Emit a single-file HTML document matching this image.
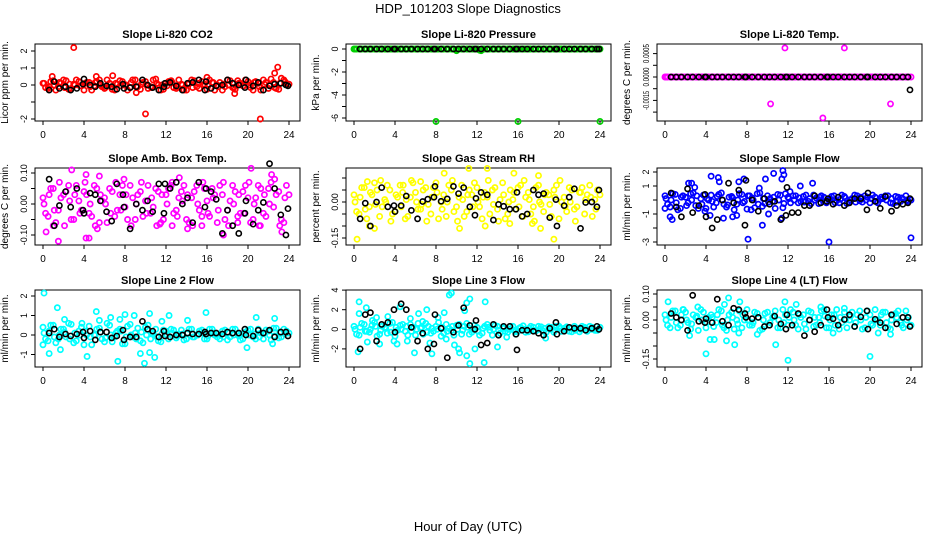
<!DOCTYPE html>
<html><head><meta charset="utf-8"><style>
html,body{margin:0;padding:0;background:#fff;}
svg{display:block;font-family:"Liberation Sans",Arial,sans-serif;}
</style></head><body>
<svg id="chart" width="936" height="540" viewBox="0 0 936 540" xmlns="http://www.w3.org/2000/svg">
<text x="468" y="13" text-anchor="middle" font-size="13">HDP_101203  Slope Diagnostics</text>
<text x="468" y="531" text-anchor="middle" font-size="13">Hour of Day (UTC)</text>
</svg>
<script>
const xTicks=[0,4,8,12,16,20,24];
const blackHours=[0.6,1.1,1.6,2.2,2.7,3.3,3.9,4.0,4.6,5.1,5.6,6.2,6.7,7.2,7.8,7.9,8.5,9.1,9.7,10.2,10.7,11.3,11.8,11.9,12.4,13.0,13.6,14.1,14.6,15.2,15.8,15.9,16.4,16.9,17.5,18.0,18.5,19.1,19.7,19.8,20.5,21.0,21.5,22.1,22.6,23.2,23.7,23.9];
const titles=["Slope Li-820 CO2","Slope Li-820 Pressure","Slope Li-820 Temp.","Slope Amb. Box Temp.","Slope Gas Stream RH","Slope Sample Flow","Slope Line 2 Flow","Slope Line 3 Flow","Slope Line 4 (LT) Flow"];
const yTitles=["Licor ppm per min.","kPa per min.","degrees C per min.","degrees C per min.","percent per min.","ml/min per min.","ml/min per min.","ml/min per min.","ml/min per min."];
const colors=["#ff0000","#00d000","#ff00ff","#ff00ff","#ffff00","#0000ff","#00ffff","#00ffff","#00ffff"];
const yTickVals=[[-2,-1,0,1,2],[0,-1,-2,-3,-4,-5,-6],[0.001,0.0005,0,-0.0005,-0.001,-0.0015],[0.1,0.05,0,-0.05,-0.1],[0.1,0.05,0,-0.05,-0.1,-0.15],[2,1,0,-1,-2,-3],[2,1,0,-1],[4,2,0,-2],[0.1,0.05,0,-0.05,-0.1,-0.15]];
const yTickLabels=[["-2","","0","1","2"],["0","","-2","","-4","","-6"],["0.0005","","0.0000","","-0.0015",""],["0.10","","0.00","","-0.10"],["","","0.00","","","-0.15"],["2","1","","-1","","-3"],["2","1","0","-1"],["4","2","0","-2"],["0.10","","0.00","","","-0.15"]];

const bandA=[
[0.1,-0.2,0.25,-0.1,0.3,-0.25,0.05,0.2,-0.3,0.15,-0.05,0.3,-0.2,0.1,-0.3,0.25,0,-0.15,0.3,-0.25,0.2,-0.1,0.35,-0.3,0.1,0.25,-0.2,0.05,-0.3,0.3,-0.1,0.2,-0.25,0.15,0,-0.3,0.3,-0.15,0.25,-0.05,0.2,-0.3,0.1,0.3,-0.2,0.15,-0.25,0.3,0.05],
[0,0,0,0,0,0,0,0,0,0,0,0,0,0,0,0,0,0,0,0,-0.1,0,0,0,0,0,0,0,0,0,0,0,0,0,0,0,0,0,0,0,0,0,0,0,0,0,0,0,0],
[0,0,0,0,0,0,0,0,0,0,0,0,0,0,0,0,0,0,0,0,0,0,0,0,0,0,0,0,0,0,0,0,0,0,0,0,0,0,0,0,0,0,0,0,0,0,0,0,0],
[0.02,-0.04,0.05,-0.02,0.03,0.06,-0.05,0.01,0.04,-0.03,0.06,-0.06,0.02,0.05,-0.04,0.03,-0.01,0.06,-0.05,0.04,0.01,-0.03,0.05,-0.06,0.03,0.06,-0.02,0.04,-0.05,0.02,0.06,-0.04,0.01,0.05,-0.06,0.03,-0.02,0.06,-0.04,0.04,0.02,-0.05,0.06,-0.03,0.05,-0.01,0.04,-0.06,0.03],
[0.03,-0.05,0.06,-0.02,0.08,-0.06,0.01,0.05,-0.04,0.07,-0.07,0.02,0.04,-0.03,0.06,-0.05,0.08,0.0,-0.06,0.05,-0.02,0.07,-0.04,0.03,0.06,-0.07,0.02,0.05,-0.03,0.08,-0.05,0.01,0.06,-0.06,0.04,-0.02,0.07,-0.04,0.03,0.05,-0.07,0.02,0.06,-0.03,0.04,-0.05,0.07,0.01,0.03],
[0.3,-0.5,0.4,-0.6,0.2,0.45,-0.4,0.1,-0.6,0.35,-0.2,0.5,-0.5,0.25,-0.3,0.4,-0.65,0.15,0.45,-0.45,0.3,-0.1,0.4,-0.55,0.2,0.3,-0.2,0.25,-0.1,0.35,-0.25,0.2,0.0,0.3,-0.2,0.25,-0.15,0.35,-0.05,0.3,-0.2,0.2,0.05,0.3,-0.2,0.25,-0.1,0.3,0.0],
[0.4,-0.3,0.5,-0.2,0.3,0.6,-0.4,0.2,-0.5,0.45,0.0,0.35,-0.35,0.5,-0.1,0.3,-0.45,0.55,0.1,-0.3,0.4,-0.2,0.3,-0.35,0.2,0.3,-0.15,0.25,-0.2,0.3,0.0,0.25,-0.2,0.3,-0.1,0.2,-0.25,0.3,0.05,-0.2,0.25,-0.1,0.3,-0.2,0.2,0.35,-0.15,0.3,0.1],
[0.3,-0.6,0.5,-0.3,0.7,-0.5,0.2,0.6,-0.7,0.4,-0.2,0.5,-0.6,0.1,0.6,-0.4,0.3,-0.7,0.5,-0.1,0.4,-0.5,0.6,-0.3,0.2,-0.4,0.5,-0.6,0.3,0.2,-0.3,0.3,-0.2,0.35,-0.25,0.2,0.3,-0.2,0.25,-0.3,0.3,0.1,-0.2,0.3,-0.25,0.2,0.3,-0.1,0.2],
[0.02,-0.03,0.035,-0.02,0.03,-0.035,0.01,0.04,-0.03,0.02,-0.01,0.035,-0.04,0.03,0.0,-0.03,0.04,-0.02,0.025,-0.035,0.03,0.01,-0.03,0.04,-0.02,0.03,-0.035,0.02,0.035,-0.025,0.01,0.04,-0.03,0.02,-0.035,0.03,0.0,-0.025,0.035,-0.03,0.02,0.04,-0.02,0.03,-0.035,0.025,-0.01,0.035,-0.02]];
const bandB=[
[-0.15,0.2,-0.3,0.1,0.25,-0.2,0.3,-0.05,0.15,-0.3,0.2,-0.1,0.3,-0.25,0.05,0.2,-0.3,0.3,-0.1,0.15,-0.2,0.3,0,-0.25,0.2,-0.15,0.3,-0.3,0.1,0.25,-0.2,0.05,0.3,-0.3,0.15,-0.1,0.25,-0.25,0.1,0.3,-0.15,0.2,-0.3,0.15,0.35,-0.2,0.4,0.1],
[0,0,0,0,0,0,0,0,0,0,0,0,0,0,0,0,0,0,0,0,0,0,0,0,-0.1,0,0,0,0,0,0,0,0,0,0,0,0,0,0,0,0,0,0,0,0,0,0,0],
[0,0,0,0,0,0,0,0,0,0,0,0,0,0,0,0,0,0,0,0,0,0,0,0,0,0,0,0,0,0,0,0,0,0,0,0,0,0,0,0,0,0,0,0,0,0,0,0],
[-0.03,0.05,-0.06,0.02,0.04,-0.05,0.06,-0.02,0.03,-0.04,0.05,0.01,-0.06,0.04,-0.02,0.06,-0.05,0.02,0.03,-0.04,0.06,-0.01,0.04,-0.05,0.05,-0.03,0.02,0.06,-0.06,0.04,-0.02,0.05,-0.04,0.03,0.06,-0.05,0.01,0.04,-0.03,0.06,-0.06,0.02,0.05,-0.04,0.07,0.03,-0.05,0.06],
[-0.04,0.06,-0.07,0.03,0.05,-0.02,0.07,-0.05,0.02,0.04,-0.06,0.08,-0.03,0.05,-0.01,0.06,-0.07,0.03,0.07,-0.04,0.02,-0.06,0.05,0.08,-0.02,0.04,-0.05,0.06,0.01,-0.07,0.05,-0.03,0.07,0.02,-0.05,0.06,-0.01,0.04,-0.06,0.07,0.0,-0.04,0.05,-0.02,0.06,0.03,-0.06,0.05],
[-0.3,0.45,-0.7,0.3,-0.2,0.5,-0.6,0.35,0.0,-0.5,0.4,-0.3,0.2,-0.7,0.45,-0.1,0.3,-0.55,0.5,-0.25,0.1,-0.6,0.35,0.45,-0.2,0.3,-0.1,0.35,-0.25,0.15,0.3,-0.2,0.25,-0.05,0.35,-0.25,0.1,0.3,-0.15,0.2,0.35,-0.2,0.1,0.3,-0.25,0.2,0.05,-0.1],
[-0.2,0.5,-0.4,0.3,-0.1,0.55,-0.3,0.4,0.0,-0.5,0.3,-0.2,0.6,-0.35,0.2,-0.45,0.45,-0.1,0.35,-0.4,0.5,0.05,-0.3,0.25,-0.2,0.25,0.05,-0.25,0.3,-0.1,0.2,-0.2,0.3,0.0,-0.2,0.25,-0.1,0.3,-0.25,0.15,0.3,-0.2,0.1,0.25,-0.25,0.35,-0.1,0.2],
[-0.5,0.6,-0.2,0.4,-0.7,0.3,-0.4,0.7,-0.1,0.5,-0.6,0.2,0.6,-0.5,0.3,-0.2,0.7,-0.4,0.1,-0.6,0.5,0.3,-0.5,0.4,-0.6,0.3,-0.1,0.4,-0.4,-0.2,0.3,-0.25,0.2,-0.3,0.3,-0.15,0.25,-0.3,0.2,0.3,-0.2,0.25,-0.25,0.1,0.3,-0.2,0.2,-0.1],
[-0.02,0.035,-0.03,0.04,-0.01,0.02,-0.04,0.03,0.01,-0.025,0.04,-0.03,0.02,-0.035,0.035,0.0,-0.02,0.03,-0.04,0.025,-0.01,0.035,-0.03,0.02,0.04,-0.02,0.01,-0.035,0.03,-0.02,0.035,-0.03,0.02,0.04,-0.01,-0.03,0.03,0.02,-0.035,0.035,-0.02,0.0,0.03,-0.03,0.02,0.035,-0.03,0.01]];
const bandC=[
[0.1,-0.1,0.0,0.15,-0.15,0.05,0.0,-0.05,0.1,-0.1,0.15,0.0,-0.15,0.05,0.1,-0.05,0.0,0.15,-0.1,0.05,0.0,-0.15,0.1,0.0,-0.05,0.15,-0.1,0.0,0.05,-0.15,0.1,0.0,-0.05,0.15,-0.1,0.05,0.0,-0.15,0.1,-0.05,0.0,0.15,-0.1,0.05,0.0,-0.15,0.1,0.2],
[0,0,0,0,0,0,0,0,0,0,0,0,0,0,0,0,0,0,0,0,0,0,0,0,0,0,0,0,0,0,0,0,0,0,0,0,0,0,0,0,0,0,0,0,0,0,0,0],
[0,0,0,0,0,0,0,0,0,0,0,0,0,0,0,0,0,0,0,0,0,0,0,0,0,0,0,0,0,0,0,0,0,0,0,0,0,0,0,0,0,0,0,0,0,0,0,0],
[0.0,0.03,-0.02,0.07,-0.07,0.01,0.03,-0.03,0.07,0.0,-0.07,0.03,0.0,-0.03,0.07,-0.02,0.03,-0.07,0.0,0.07,-0.03,0.02,-0.07,0.03,0.0,0.07,-0.04,0.01,0.03,-0.07,0.0,0.07,-0.03,0.02,-0.02,0.07,-0.07,0.0,0.03,-0.03,0.07,0.0,-0.07,0.03,0.0,0.08,-0.07,0.02],
[0.0,0.02,-0.03,0.04,-0.01,0.09,0.0,-0.08,0.03,-0.02,0.01,0.09,0.0,-0.01,-0.08,0.02,0.04,-0.03,0.0,0.09,-0.08,0.01,0.03,-0.02,0.0,0.02,0.09,-0.01,-0.08,0.03,0.0,0.04,-0.02,0.09,0.01,-0.08,0.0,0.03,-0.01,0.02,0.09,-0.02,0.0,-0.08,0.04,0.01,0.02,-0.03],
[0.1,0.0,-0.2,0.2,-0.4,0.0,0.3,-0.3,0.1,-0.1,0.25,0.0,-0.35,0.15,0.0,-0.2,0.3,0.0,-0.3,0.1,-0.15,0.2,0.0,-0.25,0.1,0.0,0.15,-0.15,0.1,0.0,0.2,-0.1,0.1,-0.2,0.05,0.15,0.0,-0.15,0.2,0.0,0.1,-0.1,0.2,0.0,0.1,-0.15,0.15,0.0],
[0.1,0.2,-0.1,0.0,0.15,-0.2,0.1,0.0,0.2,-0.1,0.0,0.15,-0.15,0.0,0.1,0.2,-0.1,0.0,-0.2,0.15,0.0,0.1,-0.1,0.05,0.0,0.1,-0.05,0.05,0.1,-0.1,0.0,0.1,-0.05,0.1,0.05,-0.1,0.1,0.0,-0.05,0.1,0.0,0.05,-0.1,0.1,0.0,-0.05,0.1,0.05],
[0.0,0.2,-0.2,0.0,0.3,-0.1,0.1,-0.3,0.2,0.0,0.3,-0.2,0.0,0.2,-0.3,0.1,0.0,0.2,-0.2,0.3,0.0,-0.1,0.2,0.0,-0.2,0.1,0.2,0.0,-0.1,0.1,0.0,-0.1,0.1,0.0,0.1,-0.1,0.0,0.1,0.0,-0.1,0.1,0.0,0.1,-0.1,0.0,0.1,0.0,-0.1],
[0.0,0.01,-0.01,0.02,0.0,-0.015,0.015,0.0,-0.01,0.01,0.02,-0.02,0.0,0.01,-0.015,0.02,0.0,-0.01,0.01,0.0,-0.02,0.015,0.0,-0.01,0.01,0.0,0.02,-0.015,0.0,0.01,-0.01,0.015,0.0,-0.02,0.01,0.0,0.015,-0.01,0.0,0.01,-0.015,0.0,0.02,-0.01,0.0,0.01,-0.02,0.0]];
const bandAHours=[0,0.5,1,1.5,2,2.5,3,3.5,4,4.5,5,5.5,6,6.5,7,7.5,8,8.5,9,9.5,10,10.5,11,11.5,12,12.5,13,13.5,14,14.5,15,15.5,16,16.5,17,17.5,18,18.5,19,19.5,20,20.5,21,21.5,22,22.5,23,23.5,24];
const bandBHours=[0.25,0.75,1.25,1.75,2.25,2.75,3.25,3.75,4.25,4.75,5.25,5.75,6.25,6.75,7.25,7.75,8.25,8.75,9.25,9.75,10.25,10.75,11.25,11.75,12.25,12.75,13.25,13.75,14.25,14.75,15.25,15.75,16.25,16.75,17.25,17.75,18.25,18.75,19.25,19.75,20.25,20.75,21.25,21.75,22.25,22.75,23.25,23.75];
const bandCHours=[0.1,0.6,1.1,1.6,2.1,2.6,3.1,3.6,4.1,4.6,5.1,5.6,6.1,6.6,7.1,7.6,8.1,8.6,9.1,9.6,10.1,10.6,11.1,11.6,12.1,12.6,13.1,13.6,14.1,14.6,15.1,15.6,16.1,16.6,17.1,17.6,18.1,18.6,19.1,19.6,20.1,20.6,21.1,21.6,22.1,22.6,23.1,23.6];
const outliers=[
[[3,2.2],[10,-1.7],[21.2,-2],[22.9,1.05],[22.6,0.7],[0.9,0.5],[6.8,0.55],[18.7,-0.5],[9.1,-0.45],[5.2,0.5],[16,0.45]],
[[8,-6.3],[16,-6.3],[24,-6.3],[10,-0.15],[12.4,-0.15]],
[[11.7,0.00124],[17.5,0.00124],[10.3,-0.00115],[15.4,-0.00175],[22,-0.00115]],
[[0.3,-0.09],[1.5,-0.12],[2.8,0.11],[4.2,0.095],[4.5,-0.11],[4.2,-0.11],[5.5,0.09],[7.9,0.08],[17.6,-0.1],[20.3,0.115],[22.3,0.095],[23.3,-0.09],[1,-0.07],[21.2,-0.07],[5.3,-0.08],[11.4,-0.065],[12.6,-0.07],[14.1,-0.08],[19,-0.06],[13.3,0.085],[15.5,-0.07]],
[[0.3,-0.155],[19.5,-0.155],[11.2,0.14],[13,0.14],[8.8,0.12],[18,0.11],[1.5,-0.1],[2,-0.11],[4.8,0.07],[10.3,-0.11],[12.8,-0.1],[15.2,-0.09],[17.4,-0.09],[18.2,-0.11],[15.6,0.12],[1.3,0.085],[6.5,0.085]],
[[0,-0.6],[0.5,-1.2],[0.7,-1.4],[2.3,1.2],[2.6,1.2],[4.5,1.7],[5.2,1.6],[5.3,1.3],[7.2,1.3],[7.7,1.5],[8.1,-2.8],[9.5,-1.8],[9.8,1.5],[10.6,1.9],[11.5,2.1],[11.6,1.8],[11.4,1.5],[10.1,-1],[13.2,1.0],[14.4,1.2],[16,-3],[24,-2.7],[7,-1.1],[5.7,-1.3],[3.9,-0.8],[2.9,0.9],[11.4,-1.3],[9.2,0.85],[12.2,0.6],[4.4,-1.1],[6.6,-1.2],[8.4,-0.7]],
[[0.1,2.15],[0,-0.5],[0.6,-0.95],[1.4,1.4],[1.7,-0.75],[4.3,-1.1],[5.2,1.2],[7.3,-1.35],[8.9,1.0],[9.5,-0.95],[9.9,-1.45],[10.4,-0.9],[10.9,-1.15],[10.4,1.1],[12.3,1.0],[15.9,1.15],[19.9,-0.65],[20.8,0.9],[22.6,0.85],[22.4,-0.45],[6.6,0.9],[8,1.05],[2.1,0.8],[3.8,0.6],[5.5,0.75],[7.5,0.8],[11.6,0.7],[14.1,0.75]],
[[0.5,2.8],[0.4,-2.3],[0.5,1.6],[1.2,2.2],[1.3,-1.3],[2.2,1.2],[2.5,-1.5],[3.3,1.3],[4.2,-1.5],[4.5,2.3],[5.2,-1.2],[5.5,1.1],[5.9,-2.4],[6.3,1.6],[7.1,2],[7.6,-2.5],[8.2,1.2],[8.8,1.7],[9.3,3.5],[9.5,3.7],[9.8,-1.6],[10.2,-2],[10.3,-2.4],[11,2.7],[11.3,3.1],[11.3,-3.5],[11,-2.7],[11.8,-2],[12.7,-3.4],[12.8,2.8],[14,-1.8],[10.8,1.9],[7.4,-1.4],[3.9,-1.2],[14.9,-0.8],[15.8,-0.5],[18.7,-0.9],[1.8,0.9],[6.7,0.8],[9,-1]],
[[0.3,0.07],[6.2,0.085],[6,-0.08],[4,-0.13],[12,-0.155],[20,-0.14],[6.8,-0.095],[4.4,-0.075],[4.8,-0.075],[10.8,-0.095],[11.7,0.07],[12.8,0.06],[7.3,0.07],[15.2,0.05],[17.5,0.045],[1.8,0.04],[2.4,-0.06],[7.2,-0.05],[9,-0.055],[16.4,-0.05],[20.8,-0.05],[22,-0.055],[5.8,0.06],[3.2,0.05]]];
const blackVals=[
[-0.3,0.2,-0.2,-0.1,-0.3,-0.2,0.05,0.35,0,-0.1,0.1,-0.05,-0.1,-0.25,0.05,-0.2,-0.15,-0.1,0.3,0,-0.15,-0.3,-0.1,0.1,0.15,-0.05,-0.3,0.1,0.15,0.3,-0.3,0.2,-0.2,-0.05,0,0.3,0.1,0,-0.15,0.3,-0.05,0.15,-0.3,-0.05,0.05,0.1,0,-0.05],
[0,0,0,0,0,0,0,0,0,0,0,0,0,0,0,0,0,0,0,0,0,0,0,0,0,0,0,0,0,0,0,0,0,0,0,0,0,0,0,0,0,0,0,0,0,0,0,0],
[0,0,0,0,0,0,0,0,0,0,0,0,0,0,0,0,0,0,0,0,0,0,0,0,0,0,0,0,0,0,0,0,0,0,0,0,0,0,0,0,0,0,0,0,0,0,0,-0.00055],
[0.08,-0.07,-0.005,0.04,-0.01,0.05,-0.02,-0.03,0.035,0.03,0.01,-0.025,-0.055,0.065,0.03,-0.01,-0.08,0,-0.02,0.01,-0.025,0.065,-0.03,0.065,0.05,0.07,0,0.02,-0.06,0.07,-0.01,0.05,0.04,0.015,-0.095,-0.02,-0.07,-0.095,-0.03,0.01,-0.065,-0.02,0.005,0.13,0.05,-0.035,-0.1,-0.015],
[-0.07,-0.005,-0.1,0,0.06,-0.02,-0.015,-0.04,-0.015,0.025,-0.035,-0.07,0.002,0.012,0.02,0.065,0.003,0.013,0.065,0.035,0.06,-0.02,-0.055,0.015,0.04,0.03,-0.075,-0.01,-0.018,-0.03,-0.03,0.04,-0.06,-0.05,0.05,0.03,0.035,-0.065,0.01,-0.1,-0.015,0.02,0.055,-0.11,-0.002,0,-0.02,0.05],
[0.5,-0.5,-1.2,0.8,-0.9,-0.4,0.4,-1.2,-2,-1.4,0,1.2,-0.2,0.7,-1.8,1.4,0,-0.8,0.1,-0.3,-0.1,-1.4,-1.1,0.9,-0.9,-0.9,-0.4,-0.4,0.3,-0.2,-0.1,0.1,-0.3,0.2,-0.4,-0.2,0.1,0.1,-0.7,0.5,-0.1,-0.6,0.25,-0.8,-0.4,-0.3,-0.2,0.1],
[0.1,0.3,-0.1,0.05,-0.05,0.05,0.15,-0.15,0.2,-0.25,0.15,0.15,-0.15,-0.05,0.25,-0.25,-0.1,-0.1,0.7,0.3,0.2,-0.1,0.2,-0.05,-0.1,0,0,0.1,0.05,0.05,0.15,0.05,0.1,0.1,0.05,0.15,0.1,0.1,0.3,0,-0.05,0.25,0.1,0.25,-0.1,0.15,0.15,-0.05],
[-2.0,1.5,1.7,-1.2,0.5,0.7,2.0,-0.3,2.6,2.0,0.2,-1.2,-0.4,-2,-1.5,1.5,0.1,-2.9,-0.3,0.4,2.2,0.4,0,0.9,-1.6,-1.4,0.5,-0.6,0.3,0.3,-0.5,-2.1,-0.1,-0.1,-0.2,-0.4,-0.6,0.1,0.7,-0.5,-0.2,0.2,0.1,0.1,-0.1,0.1,0.3,0],
[0.025,0.01,0,-0.04,0.095,-0.005,-0.01,0.005,-0.01,0.08,-0.005,-0.02,0.045,0.04,0.025,0.01,0.005,0.01,-0.025,-0.02,0.015,-0.015,-0.035,0.02,-0.02,0.025,-0.06,0,-0.045,-0.02,0.04,0.01,0.005,-0.02,0.002,0.02,-0.025,0.012,0.035,-0.035,0.003,-0.01,-0.03,0.02,-0.015,0.01,0.01,-0.025]];
const yCal=[[[2,51],[-2,119]],[[0,49],[-6,118]],[[0,77],[0.0005,65.3]],[[0.1,173],[-0.1,235]],[[0,202],[0.05,190]],[[0,200],[1,186]],[[0,335],[1,315.5]],[[0,329.3],[2,309.7]],[[0,320],[0.1,294]]];

const svg=document.getElementById('chart');
const NS='http://www.w3.org/2000/svg';
function mk(tag,attrs,parent){const e=document.createElementNS(NS,tag);for(const k in attrs)e.setAttribute(k,attrs[k]);parent.appendChild(e);return e;}
const colLeft=[35,346,657],rowTop=[44,168,290],W=265,H=77;

for(let p=0;p<9;p++){
  const L=colLeft[p%3],T=rowTop[Math.floor(p/3)];
  const g=mk('g',{},svg);
  
  
  const xS=h=>L+8+h*246/24;
  const c=yCal[p];const k=(c[1][1]-c[0][1])/(c[1][0]-c[0][0]);
  const yS=v=>c[0][1]+(v-c[0][0])*k;
  const t=mk('text',{x:L+W/2,y:T-6,'text-anchor':'middle','font-size':'11','font-weight':'bold'},g);
  t.textContent=titles[p];
  
  
  const yt=mk('text',{x:0,y:0,'text-anchor':'middle','font-size':'10',transform:`translate(${L-27},${T+H/2}) rotate(-90)`},g);
  yt.textContent=yTitles[p];
  
  
  const box=mk('rect',{x:L,y:T,width:W,height:H,fill:'none',stroke:'#000','stroke-width':'1'},g);
  
  
  const xa=mk('g',{},g);
  
  
  mk('line',{x1:xS(0),x2:xS(24),y1:T+H,y2:T+H,stroke:'#000'},xa);
  xTicks.forEach(v=>{
    mk('line',{x1:xS(v),x2:xS(v),y1:T+H,y2:T+H+4,stroke:'#000'},xa);
    const tl=mk('text',{x:xS(v),y:T+H+17,'text-anchor':'middle','font-size':'10'},xa);
    tl.textContent=v;
    
    
  });
  const ya=mk('g',{},g);
  
  
  const tv=yTickVals[p];
  mk('line',{x1:L,x2:L,y1:yS(Math.max(...tv)),y2:yS(Math.min(...tv)),stroke:'#000'},ya);
  tv.forEach((v,i)=>{
    mk('line',{x1:L-4,x2:L,y1:yS(v),y2:yS(v),stroke:'#000'},ya);
    if(yTickLabels[p][i]){
      const at={x:0,y:0,'text-anchor':'middle','font-size':'9',transform:`translate(${L-8},${yS(v)}) rotate(-90)`};
      if(p===2){at.textLength='19';at.lengthAdjust='spacingAndGlyphs';at['font-size']='8';}
      const tl=mk('text',at,ya);
      tl.textContent=yTickLabels[p][i];
      
      
    }
  });
  const col=colors[p];
  const sg=mk('g',{fill:'none',stroke:col,'stroke-width':'1.7'},g);
  
  
  const pts=[];
  bandA[p].forEach((v,i)=>pts.push([bandAHours[i],v]));
  bandB[p].forEach((v,i)=>pts.push([bandBHours[i],v]));
  bandC[p].forEach((v,i)=>pts.push([bandCHours[i],v]));
  outliers[p].forEach(o=>pts.push(o));
  pts.forEach(d=>{
    const ci=mk('circle',{cx:xS(d[0]),cy:yS(d[1]),r:2.6},sg);
    
    
  });
  const bg=mk('g',{fill:'none',stroke:'#000','stroke-width':'1.6'},g);
  
  
  blackVals[p].forEach((v,i)=>{
    const ci=mk('circle',{cx:xS(blackHours[i]),cy:yS(v),r:2.6},bg);
    
    
  });
}
</script>
</body></html>
